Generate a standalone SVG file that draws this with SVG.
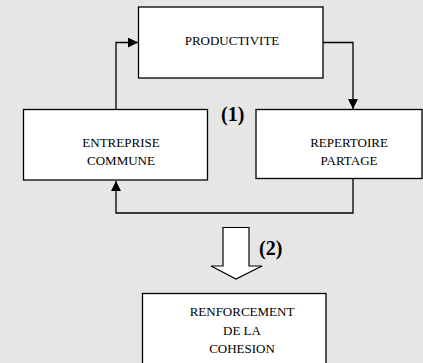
<svg xmlns="http://www.w3.org/2000/svg" width="423" height="363" viewBox="0 0 423 363">
<defs>
<style>
.box{fill:#fff;stroke:#000;stroke-width:1.3}
.t{font-family:"Liberation Serif","Times New Roman",serif;font-size:13px;fill:#000;text-anchor:middle}
.n{font-family:"Liberation Serif","Times New Roman",serif;font-size:20px;font-weight:bold;fill:#000}
.c{fill:none;stroke:#000;stroke-width:1.3}
</style>
<marker id="ah" viewBox="0 0 10 10" refX="10" refY="5" markerWidth="10" markerHeight="10" markerUnits="userSpaceOnUse" orient="auto">
<path d="M0,0 L10,5 L0,10 Z" fill="#000"/>
</marker>
</defs>
<rect x="0" y="0" width="423" height="363" fill="#e6e6e6"/>
<g id="connectors">
<path class="c" d="M116,109 V42.5 H138" marker-end="url(#ah)"/>
<path class="c" d="M323,42.5 H353 V109" marker-end="url(#ah)"/>
<path class="c" d="M353,179 V213 H116 V181" marker-end="url(#ah)"/>
<path d="M223,227.5 H249 V266 H262 L236,279 L211,266 H223 Z" fill="#fff" stroke="#000" stroke-width="1.2"/>
</g>
<g id="productivite">
<rect class="box" x="138.5" y="7" width="184.5" height="71"/>
<text class="t" x="232" y="45">PRODUCTIVITE</text>
</g>
<g id="entreprise">
<rect class="box" x="23.5" y="109.5" width="184" height="70.5"/>
<text class="t" x="121" y="147">ENTREPRISE</text>
<text class="t" x="121" y="165">COMMUNE</text>
</g>
<g id="repertoire">
<rect class="box" x="256" y="109.5" width="166" height="69"/>
<text class="t" x="349" y="147">REPERTOIRE</text>
<text class="t" x="349" y="165">PARTAGE</text>
</g>
<g id="renforcement">
<rect class="box" x="142.5" y="293.5" width="183.5" height="80"/>
<text class="t" x="242" y="316">RENFORCEMENT</text>
<text class="t" x="242" y="335">DE LA</text>
<text class="t" x="242" y="353">COHESION</text>
</g>
<g id="labels">
<text class="n" x="221" y="121">(1)</text>
<text class="n" x="259" y="255">(2)</text>
</g>
</svg>
